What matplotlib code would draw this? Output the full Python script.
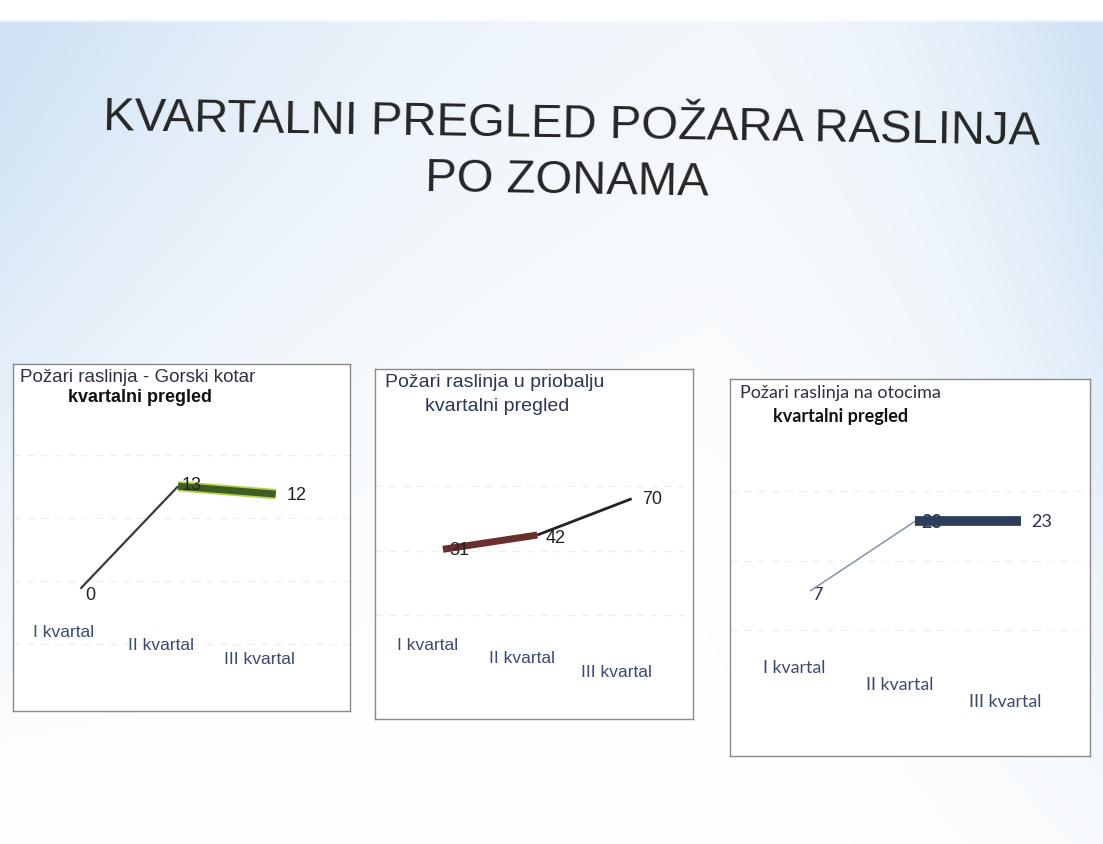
import matplotlib
matplotlib.use("Agg")
import matplotlib.pyplot as plt
import matplotlib.transforms as mtransforms
import numpy as np

# -----------------------------------------------------------------------------
# Data
# -----------------------------------------------------------------------------
TITLE_LINE1 = "KVARTALNI PREGLED POŽARA RASLINJA"
TITLE_LINE2 = "PO ZONAMA"
QUARTERS = ["I kvartal", "II kvartal", "III kvartal"]

GORSKI_TITLE = "Požari raslinja - Gorski kotar"
GORSKI_VALUES = [0, 13, 12]

PRIOBALJE_TITLE = "Požari raslinja u priobalju"
PRIOBALJE_VALUES = [31, 42, 70]

OTOCI_TITLE = "Požari raslinja na otocima"
OTOCI_VALUES = [7, 23, 23]

SUBTITLE = "kvartalni pregled"

W, H = 1103, 845
LABEL_COL = "#3a4a72"


def px_rect(x0, y0, x1, y1):
    # pixel box (top-left origin) -> figure fraction rect
    return [x0 / W, 1 - y1 / H, (x1 - x0) / W, (y1 - y0) / H]


def make_background(fig):
    bg = fig.add_axes([0, 0, 1, 1], zorder=-10)
    xs = np.linspace(0, W, 300)
    ys = np.linspace(0, H, 230)
    X, Y = np.meshgrid(xs, ys)
    left = np.exp(-X / 330.0) * np.clip(1 - Y / 800.0, 0, 1)
    right = np.exp(-(W - X) / 170.0) * np.clip(1 - Y / 1000.0, 0, 1)
    t = np.maximum(left, right) + 0.18 * np.clip(1 - Y / 500.0, 0, 1)
    t = np.clip(t, 0, 1)
    t[(Y < 22)] = 0
    tint = np.array([0.82, 0.89, 0.96])
    img = 1 - t[..., None] * (1 - tint)
    bg.imshow(img, extent=[0, W, H, 0], aspect="auto", interpolation="bilinear")
    bg.set_xlim(0, W)
    bg.set_ylim(H, 0)
    bg.axis("off")


def setup_panel(ax, xlim, ylim, grid_vals):
    ax.set_xlim(*xlim)
    ax.set_ylim(*ylim)
    ax.set_xticks([])
    ax.set_yticks(grid_vals)
    ax.tick_params(axis="y", length=0, labelleft=False)
    ax.grid(axis="y", color="#efefef", lw=0.9, ls=(0, (6, 5)))
    ax.set_facecolor("white")
    for sp in ax.spines.values():
        sp.set_color("#8a8a8a")
        sp.set_linewidth(1.0)


def quarter_labels(ax, ys, shift, font, size):
    trans = mtransforms.blended_transform_factory(ax.transData, ax.transAxes)
    for i, (lab, yy) in enumerate(zip(QUARTERS, ys)):
        ax.text(i + shift, yy, lab, transform=trans, ha="center", va="center",
                fontsize=size, color=LABEL_COL, family=font)


# -----------------------------------------------------------------------------
# Figure
# -----------------------------------------------------------------------------
fig = plt.figure(figsize=(W / 100, H / 100), dpi=100)
make_background(fig)

fig.text(571 / W, 1 - 137 / H, TITLE_LINE1, ha="center", va="baseline",
         fontsize=34, family="Liberation Sans", color="#262626",
         rotation=-0.9, rotation_mode="anchor")
fig.text(567 / W, 1 - 193 / H, TITLE_LINE2, ha="center", va="baseline",
         fontsize=34, family="Liberation Sans", color="#262626",
         rotation=-0.9, rotation_mode="anchor")

x = np.arange(len(QUARTERS))

# --- Panel 1: Gorski kotar ---------------------------------------------------
ax1 = fig.add_axes(px_rect(13, 365, 350, 712))
setup_panel(ax1, (-0.69, 2.76), (-15.5, 28.5), [-7, 1, 9, 17])
v = np.array(GORSKI_VALUES)
ax1.plot(x[:2], v[:2], color="#3a3a3a", lw=1.6, solid_capstyle="butt")
ax1.plot(x[1:], v[1:], color="#b5d24a", lw=7.5, solid_capstyle="butt")
ax1.plot(x[1:], v[1:], color="#3e5d22", lw=5, solid_capstyle="butt")
for i, val, off in zip(x, v, [(7, -4), (10, 1), (15, 0)]):
    ax1.annotate(str(val), (i, val), xytext=off, textcoords="offset points",
                 ha="center", va="center", fontsize=13, color="#222222",
                 family="Liberation Sans")
ax1.text(0.02, 0.963, GORSKI_TITLE, transform=ax1.transAxes, ha="left",
         va="center", fontsize=13.5, color="#2b3245", family="Liberation Sans")
ax1.text(0.163, 0.905, SUBTITLE, transform=ax1.transAxes, ha="left",
         va="center", fontsize=13, color="#111111", family="Liberation Sans",
         fontweight="bold")
quarter_labels(ax1, [0.228, 0.193, 0.150], -0.17, "Liberation Sans", 12.5)

# --- Panel 2: priobalje ------------------------------------------------------
ax2 = fig.add_axes(px_rect(375, 370, 693, 720))
setup_panel(ax2, (-0.72, 2.65), (-99.8, 170), [-20, 30, 80])
v = np.array(PRIOBALJE_VALUES)
ax2.plot(x[:2], v[:2], color="#6b2e2e", lw=5, solid_capstyle="butt")
ax2.plot(x[1:], v[1:], color="#222222", lw=2, solid_capstyle="butt")
for i, val, off in zip(x, v, [(12, 0), (13, -2), (15, 0)]):
    ax2.annotate(str(val), (i, val), xytext=off, textcoords="offset points",
                 ha="center", va="center", fontsize=13, color="#222222",
                 family="Liberation Sans")
ax2.text(0.031, 0.963, PRIOBALJE_TITLE, transform=ax2.transAxes, ha="left",
         va="center", fontsize=14, color="#2c3656", family="Liberation Sans")
ax2.text(0.157, 0.897, SUBTITLE, transform=ax2.transAxes, ha="left",
         va="center", fontsize=14, color="#2c3656", family="Liberation Sans")
quarter_labels(ax2, [0.214, 0.177, 0.137], -0.16, "Liberation Sans", 12.5)

# --- Panel 3: otoci ----------------------------------------------------------
ax3 = fig.add_axes(px_rect(730, 380, 1090, 757))
setup_panel(ax3, (-0.76, 2.66), (-30.7, 55.5), [-2, 14, 30])
v = np.array(OTOCI_VALUES)
ax3.plot(x[:2], v[:2], color="#8593aa", lw=1.1, solid_capstyle="butt")
for i, val, off in zip(x, v, [(6, -2), (12, 0), (15, 0)]):
    col = "#2e3d5c" if i == 1 else "#2a3550"
    ax3.annotate(str(val), (i, val), xytext=off, textcoords="offset points",
                 ha="center", va="center", fontsize=13, color=col,
                 family="Lato", fontweight="bold" if i == 1 else "normal",
                 zorder=1)
ax3.plot(x[1:], v[1:], color="#2e3d5c", lw=7, solid_capstyle="butt", zorder=3)
ax3.text(0.028, 0.966, OTOCI_TITLE, transform=ax3.transAxes, ha="left",
         va="center", fontsize=13, color="#2b3245", family="Lato")
ax3.text(0.119, 0.902, SUBTITLE, transform=ax3.transAxes, ha="left",
         va="center", fontsize=13, color="#111111", family="Lato",
         fontweight="bold")
quarter_labels(ax3, [0.236, 0.191, 0.146], -0.15, "Lato", 12.8)

fig.savefig("out.png", dpi=100)
